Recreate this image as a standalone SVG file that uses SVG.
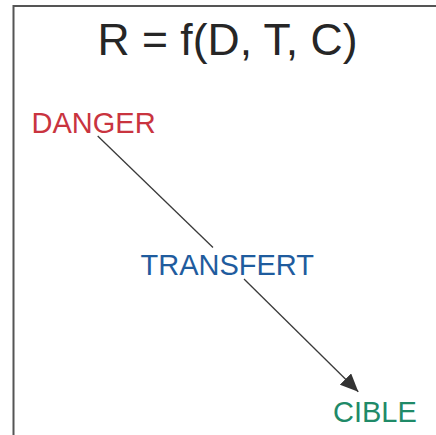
<svg xmlns="http://www.w3.org/2000/svg" width="436" height="435" viewBox="0 0 436 435">
<style>
.lbl{font-family:"Liberation Sans",Arial,sans-serif;font-size:29px}
.conn{stroke:#3a3a3a;stroke-width:1.3;fill:none}
</style>
<defs>
<marker id="arr" markerUnits="userSpaceOnUse" markerWidth="20" markerHeight="16" refX="18" refY="8" orient="auto">
<path d="M0,0 L18,8 L0,16 Z" fill="#333"/>
</marker>
</defs>
<rect width="436" height="435" fill="#fff"/>
<path d="M13.5,435 L13.5,6 L436,6" fill="none" stroke="#555" stroke-width="2"/>
<g id="title"><text x="227.5" y="54.5" text-anchor="middle" font-family="Liberation Sans,Arial,sans-serif" font-size="44.5" fill="#262626">R = f(D, T, C)</text></g>
<g id="connectors">
<line class="conn" x1="97.7" y1="136" x2="213" y2="247.5"/>
<line class="conn" x1="244" y1="279" x2="358.3" y2="391.7" marker-end="url(#arr)"/>
</g>
<g id="danger"><text class="lbl" x="31.5" y="133" fill="#c9343f">DANGER</text></g>
<g id="transfert"><text class="lbl" x="140.5" y="275" fill="#1f5c9e">TRANSFERT</text></g>
<g id="cible"><text class="lbl" x="333" y="422" fill="#1f8a68">CIBLE</text></g>
</svg>
